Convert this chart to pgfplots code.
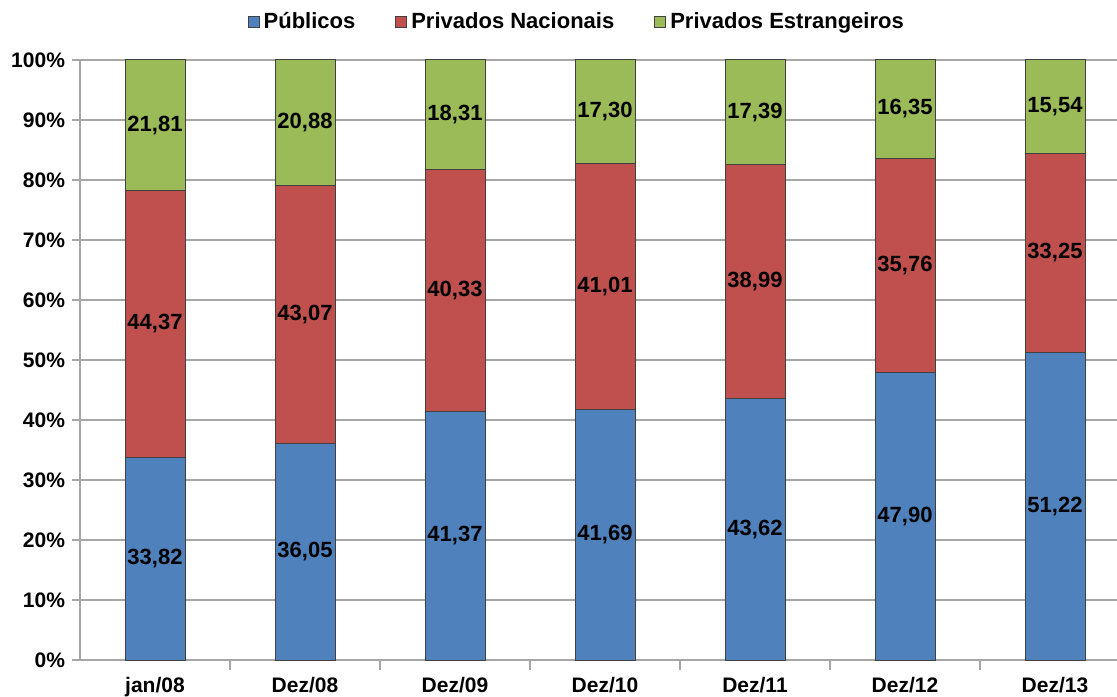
\documentclass[border=0pt]{standalone}
\usepackage{pgfplots}
\pgfplotsset{compat=1.18}
\usepackage{fontspec}
\setmainfont{Liberation Sans}
\definecolor{cpub}{HTML}{4F81BD}
\definecolor{cnac}{HTML}{C0504D}
\definecolor{cest}{HTML}{9BBB59}
\definecolor{gridc}{HTML}{A6A6A6}
\begin{document}
\begin{tikzpicture}
\begin{axis}[
  scale only axis,
  x=75pt, y=3pt,
  xmin=-0.5, xmax=6.413,
  ymin=0, ymax=100,
  clip=false,
  ybar stacked,
  bar width=30pt,
  axis x line*=bottom,
  axis y line*=left,
  axis line style={gridc, line width=0.8pt},
  ymajorgrids,
  grid style={gridc, line width=0.8pt},
  ytick={0,10,...,100},
  yticklabel={\pgfmathprintnumber[assume math mode=true]{\tick}\%},
  xtick={0,...,6},
  xticklabels={jan/08,Dez/08,Dez/09,Dez/10,Dez/11,Dez/12,Dez/13},
  minor xtick={0.5,1.5,...,5.5},
  major x tick style={draw=none},
  minor x tick style={gridc, line width=0.8pt},
  ytick style={gridc, line width=0.8pt},
  tick align=outside,
  major tick length=4pt,
  minor tick length=5pt,
  tick label style={font=\bfseries\fontsize{10.5}{12}\selectfont, text=black},
  xticklabel style={yshift=-1pt},
  visualization depends on=rawy \as \rawy,
  nodes near coords={\pgfmathprintnumber[fixed,fixed zerofill,precision=2,use comma,assume math mode=true]{\rawy}},
  nodes near coords align=center,
  every node near coord/.append style={font=\bfseries\fontsize{11}{13}\selectfont, text=black, inner sep=0pt},
  legend columns=3,
  legend style={at={(0.48,1.063)}, anchor=center, draw=none, fill=none,
    font=\bfseries\fontsize{11}{13}\selectfont,
    /tikz/every even column/.append style={column sep=18pt}},
  legend image code/.code={\draw[#1, line width=0.5pt] (0pt,-2.8pt) rectangle (5.5pt,3pt);},
]
\addplot[fill=cpub, draw=black!75, line width=0.5pt] coordinates {(0,33.82) (1,36.05) (2,41.37) (3,41.69) (4,43.62) (5,47.90) (6,51.22)};
\addplot[fill=cnac, draw=black!75, line width=0.5pt] coordinates {(0,44.37) (1,43.07) (2,40.33) (3,41.01) (4,38.99) (5,35.76) (6,33.25)};
\addplot[fill=cest, draw=black!75, line width=0.5pt] coordinates {(0,21.81) (1,20.88) (2,18.31) (3,17.30) (4,17.39) (5,16.35) (6,15.54)};
\legend{Públicos, Privados Nacionais, Privados Estrangeiros}
\end{axis}
\pgfresetboundingbox
\useasboundingbox (-40pt,-18pt) rectangle (518.5pt,330pt);
\end{tikzpicture}
\end{document}
